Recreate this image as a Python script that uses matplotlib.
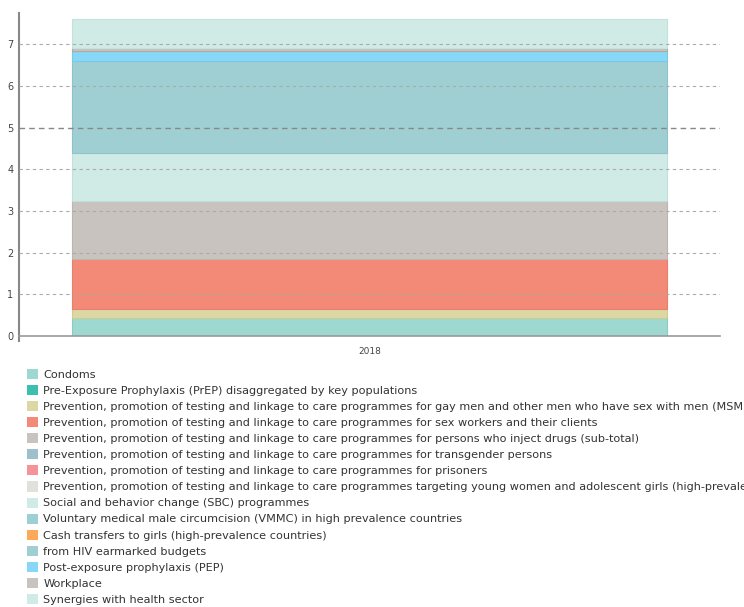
import matplotlib
matplotlib.use('Agg')
import matplotlib.pyplot as plt
from matplotlib.patches import Patch

# categories on the x axis
years = ['2018']

# series names, in stacking order
series = [
    'Condoms',
    'Pre-Exposure Prophylaxis (PrEP) disaggregated by key populations',
    'Prevention, promotion of testing and linkage to care programmes for gay men and other men who have sex with men (MSM)',
    'Prevention, promotion of testing and linkage to care programmes for sex workers and their clients',
    'Prevention, promotion of testing and linkage to care programmes for persons who inject drugs (sub-total)',
    'Prevention, promotion of testing and linkage to care programmes for transgender persons',
    'Prevention, promotion of testing and linkage to care programmes for prisoners',
    'Prevention, promotion of testing and linkage to care programmes targeting young women and adolescent girls (high-prevalence countries)',
    'Social and behavior change (SBC) programmes',
    'Voluntary medical male circumcision (VMMC) in high prevalence countries',
    'Cash transfers to girls (high-prevalence countries)',
    'from HIV earmarked budgets',
    'Post-exposure prophylaxis (PEP)',
    'Workplace',
    'Synergies with health sector',
]

# values for 2018
values = [0.43, 0.0, 0.21, 1.20, 1.40, 0.0, 0.0, 0.0, 1.14, 0.0, 0.0, 2.21, 0.25, 0.06, 0.70]

colors = ['#9dd9d1', '#3cbfae', '#dcd8a4', '#f38a77', '#c9c3bf', '#9ec0cc', '#f4949a',
          '#e2e0dc', '#d0eae6', '#9ecfd4', '#fca95c', '#a0cfd3', '#87d7f7', '#c9c3bf', '#d0eae6']
edges = ['#8ccbc2', '#35ad9d', '#cfcb93', '#e97e6b', '#bcb5b0', '#8fb2bf', '#e8878d',
         '#d4d2ce', '#bfe0db', '#8fc3c8', '#f09c50', '#8fc3c8', '#78c9ea', '#b0aaa6', '#c2e2dd']

fig = plt.figure(figsize=(7.44, 6.07), dpi=100)
ax = fig.add_axes([19 / 744, 1 - 336 / 607, 701 / 744, (336 - 13) / 607])

bottom = 0.0
for name, v, c, e in zip(series, values, colors, edges):
    if v > 0:
        ax.bar(0, v, width=0.85, bottom=bottom, color=c, edgecolor=e, linewidth=0.8, zorder=2)
    bottom += v

ax.set_xlim(-0.5, 0.5)
ax.set_ylim(0, (336 - 13) / 41.7)
ax.set_xticks([0])
ax.set_xticklabels(years, fontsize=6.5, color='#444444')
ax.set_yticks(range(0, 8))
ax.tick_params(axis='y', labelsize=7, colors='#444444', length=0, pad=4)
ax.tick_params(axis='x', length=0, pad=8)

# dashed grid lines above the bars
for t in range(1, 8):
    if t == 5:
        ax.axhline(t, color='#888888', linestyle=(0, (4, 3)), linewidth=1.0, zorder=3)
    else:
        ax.axhline(t, color='#aaaaaa', linestyle=(0, (3, 3)), linewidth=0.8, zorder=3)

for s in ['top', 'right']:
    ax.spines[s].set_visible(False)
ax.spines['left'].set_color('#888888')
ax.spines['left'].set_linewidth(1.5)
ax.spines['left'].set_bounds(-0.12, ax.get_ylim()[1])
ax.spines['bottom'].set_color('#999999')
ax.spines['bottom'].set_linewidth(1.2)
ax.set_clip_on(False)

handles = [Patch(facecolor=c, edgecolor='none') for c in colors]
fig.legend(handles, series, loc='upper left', bbox_to_anchor=(27 / 744, 1 - 369 / 607),
           frameon=False, fontsize=8.1, handlelength=1.0, handleheight=1.0,
           handletextpad=0.45, labelspacing=0.46, borderaxespad=0, borderpad=0,
           labelcolor='#333333')

fig.savefig('out.png', dpi=100)
